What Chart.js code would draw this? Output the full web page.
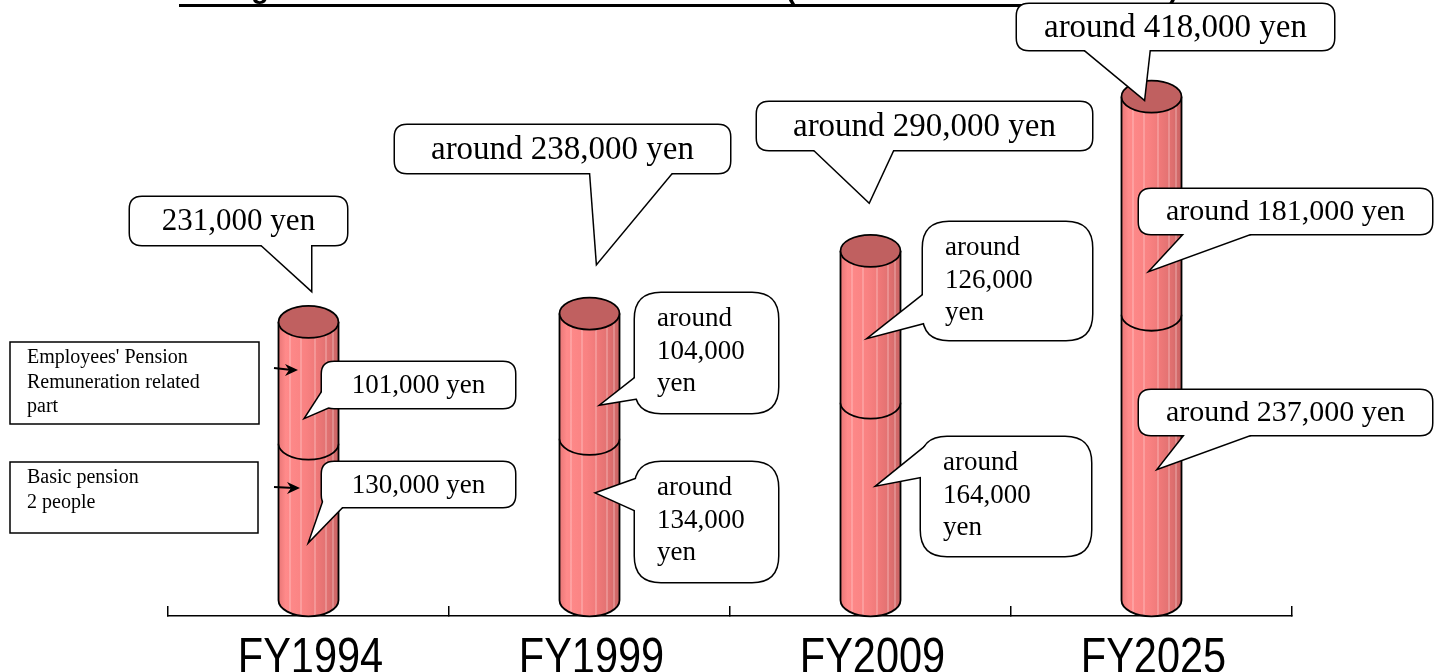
<!DOCTYPE html>
<html>
<head>
<meta charset="utf-8">
<script src="https://cdn.jsdelivr.net/npm/chart.js@4.4.0/dist/chart.umd.min.js"></script>
<style>
    html, body { margin: 0; padding: 0; background: #fff; overflow: hidden; }
    #wrap { width: 1434px; height: 672px; position: relative; }
</style>
</head>
<body>
<div id="wrap"><canvas id="chart"></canvas></div>
<script>
// Datos (yenes al mes)
const years = ['FY1994', 'FY1999', 'FY2009', 'FY2025'];
const basicPension = [130000, 134000, 164000, 237000];
const employeesPension = [101000, 104000, 126000, 181000];
const totals = [231000, 238000, 290000, 418000];
const isEstimate = [false, true, true, true];
const legendBasic = ['Basic pension', '2 people'];
const legendEmployees = ["Employees' Pension", 'Remuneration related', 'part'];
const titleText = 'Changes in New Standard Pension Benefits (Model Household Amounts)';

const serif = '"Liberation Serif", "Times New Roman", serif';
const sans = '"Liberation Sans", Arial, sans-serif';

function yen(v) {
    return v.toLocaleString('en-US') + ' yen';
}

// Cajas de los globos (posición fija, como en la lámina original)
const totalBoxes = [
    { box: [130, 197, 217, 48, 12], base: [[257, 241], [311, 241]], tip: [311, 290], size: 31 },
    { box: [395, 125, 335, 48, 12], base: [[590, 169], [675, 169]], tip: [597, 263], size: 33 },
    { box: [757, 102, 335, 48, 12], base: [[810, 146], [895, 146]], tip: [869, 202], size: 33 },
    { box: [1017, 4, 317, 46, 12], base: [[1080, 46], [1150, 46]], tip: [1144, 99], size: 33 }
];
const employeesBoxes = [
    { box: [322, 362, 193, 46, 12], base: [[326, 386], [336, 404]], tip: [306, 417], size: 27 },
    { box: [635, 293, 143, 120, 26], base: [[639, 375], [639, 398]], tip: [602, 404], size: 27, multi: true },
    { box: [923, 222, 169, 118, 26], base: [[927, 292], [927, 322]], tip: [870, 337], size: 27, multi: true },
    { box: [1139, 189, 293, 45, 12], base: [[1188, 230], [1261, 230]], tip: [1151, 270], size: 30 }
];
const basicBoxes = [
    { box: [322, 462, 193, 45, 12], base: [[326, 494], [346, 503]], tip: [310, 540], size: 27 },
    { box: [635, 462, 143, 120, 26], base: [[639, 478], [639, 512]], tip: [597, 493], size: 27, multi: true },
    { box: [921, 437, 170, 119, 26], base: [[925, 447], [925, 476]], tip: [878, 485], size: 27, multi: true },
    { box: [1139, 390, 293, 45, 12], base: [[1188, 431], [1261, 431]], tip: [1159, 468], size: 30 }
];

function roundRectPath(ctx, x, y, w, h, r) {
    ctx.beginPath();
    ctx.moveTo(x + r, y);
    ctx.lineTo(x + w - r, y);
    ctx.quadraticCurveTo(x + w, y, x + w, y + r);
    ctx.lineTo(x + w, y + h - r);
    ctx.quadraticCurveTo(x + w, y + h, x + w - r, y + h);
    ctx.lineTo(x + r, y + h);
    ctx.quadraticCurveTo(x, y + h, x, y + h - r);
    ctx.lineTo(x, y + r);
    ctx.quadraticCurveTo(x, y, x + r, y);
    ctx.closePath();
}

function drawBubble(ctx, cfg, lines) {
    const [x, y, w, h, r] = cfg.box;
    const tri = () => {
        ctx.beginPath();
        ctx.moveTo(cfg.base[0][0], cfg.base[0][1]);
        ctx.lineTo(cfg.tip[0], cfg.tip[1]);
        ctx.lineTo(cfg.base[1][0], cfg.base[1][1]);
        ctx.closePath();
    };
    ctx.save();
    ctx.lineWidth = 3;
    ctx.miterLimit = 6;
    ctx.strokeStyle = '#000';
    ctx.fillStyle = '#fff';
    roundRectPath(ctx, x, y, w, h, r);
    ctx.stroke();
    tri();
    ctx.stroke();
    roundRectPath(ctx, x, y, w, h, r);
    ctx.fill();
    tri();
    ctx.fill();

    ctx.fillStyle = '#000';
    ctx.font = cfg.size + 'px ' + serif;
    ctx.textBaseline = 'middle';
    if (cfg.multi) {
        ctx.textAlign = 'left';
        lines.forEach((t, k) => ctx.fillText(t, x + 22, y + 26 + k * 32.5));
    } else {
        ctx.textAlign = 'center';
        ctx.fillText(lines[0], x + w / 2, y + h / 2 + 1);
    }
    ctx.restore();
}

function segmentLines(v, i, cfg) {
    if (cfg.multi) return ['around', v.toLocaleString('en-US'), 'yen'];
    return [(isEstimate[i] ? 'around ' : '') + yen(v)];
}

function drawLegendBox(ctx, x, y, w, h, lines, arrow) {
    ctx.save();
    ctx.lineWidth = 1.5;
    ctx.strokeStyle = '#000';
    ctx.fillStyle = '#fff';
    ctx.fillRect(x, y, w, h);
    ctx.strokeRect(x, y, w, h);
    ctx.fillStyle = '#000';
    ctx.font = '20px ' + serif;
    ctx.textBaseline = 'middle';
    ctx.textAlign = 'left';
    lines.forEach((t, k) => ctx.fillText(t, x + 17, y + 16 + k * 24.5));
    // flecha hacia el cilindro
    const [ax1, ay1, ax2, ay2] = arrow;
    ctx.lineWidth = 2;
    ctx.beginPath();
    ctx.moveTo(ax1, ay1);
    ctx.lineTo(ax2 - 6, ay2);
    ctx.stroke();
    ctx.beginPath();
    ctx.moveTo(ax2, ay2);
    ctx.lineTo(ax2 - 13, ay2 - 6);
    ctx.lineTo(ax2 - 9, ay2);
    ctx.lineTo(ax2 - 13, ay2 + 6);
    ctx.closePath();
    ctx.fill();
    ctx.restore();
}

// Cuerpo de cilindro a partir de la geometría de la barra
function drawCylinder(ctx, x, yTop, yBase, rx, ry, withCap) {
    const grad = ctx.createLinearGradient(x - rx, 0, x + rx, 0);
    grad.addColorStop(0, '#E97676');
    grad.addColorStop(0.12, '#FF8A8A');
    grad.addColorStop(0.45, '#F98282');
    grad.addColorStop(0.65, '#EE7878');
    grad.addColorStop(0.85, '#DE6F6F');
    grad.addColorStop(1, '#C96464');

    ctx.save();
    ctx.beginPath();
    ctx.moveTo(x - rx, yTop);
    ctx.lineTo(x - rx, yBase);
    ctx.ellipse(x, yBase, rx, ry, 0, Math.PI, 0, true);
    ctx.lineTo(x + rx, yTop);
    ctx.ellipse(x, yTop, rx, ry, 0, 0, Math.PI, true);
    ctx.closePath();
    ctx.fillStyle = grad;
    ctx.fill();

    // rayas claras verticales
    ctx.save();
    ctx.clip();
    ctx.strokeStyle = 'rgba(255, 225, 225, 0.55)';
    ctx.lineWidth = 1;
    [-19, -8, 6, 17, 24].forEach(dx => {
        ctx.beginPath();
        ctx.moveTo(x + dx + 0.5, yTop - ry);
        ctx.lineTo(x + dx + 0.5, yBase + ry);
        ctx.stroke();
    });
    ctx.restore();

    ctx.strokeStyle = '#000';
    ctx.lineWidth = 1.8;
    ctx.beginPath();
    ctx.moveTo(x - rx, yTop);
    ctx.lineTo(x - rx, yBase);
    ctx.ellipse(x, yBase, rx, ry, 0, Math.PI, 0, true);
    ctx.lineTo(x + rx, yTop);
    ctx.stroke();

    if (withCap) {
        ctx.beginPath();
        ctx.ellipse(x, yTop, rx, ry, 0, 0, Math.PI * 2);
        ctx.fillStyle = '#C06060';
        ctx.fill();
        ctx.stroke();
    }
    ctx.restore();
}

const cylinderPlugin = {
    id: 'cylinders',
    afterDatasetsDraw(chart) {
        const ctx = chart.ctx;
        const lower = chart.getDatasetMeta(0).data;
        const upper = chart.getDatasetMeta(1).data;
        lower.forEach((el, i) => {
            const rx = el.width / 2;
            const ry = 16;
            drawCylinder(ctx, el.x, el.y, el.base, rx, ry, false);
            const top = upper[i];
            drawCylinder(ctx, top.x, top.y, top.base, rx, ry, true);
        });
    }
};

// Etiquetas del eje X en letra estrecha (escala horizontal)
const narrowLabels = {
    id: 'narrowLabels',
    afterDraw(chart) {
        const ctx = chart.ctx;
        const xs = chart.scales.x;
        ctx.save();
        ctx.font = '50px ' + sans;
        ctx.fillStyle = '#000';
        ctx.textAlign = 'center';
        ctx.textBaseline = 'alphabetic';
        chart.data.labels.forEach((lab, i) => {
            const px = xs.getPixelForTick(i);
            ctx.save();
            ctx.translate(px + 2, xs.top + 57);
            ctx.scale(0.83, 1);
            ctx.fillText(lab, 0, 0);
            ctx.restore();
        });
        ctx.restore();
    }
};

const notesPlugin = {
    id: 'notes',
    afterDraw(chart) {
        const ctx = chart.ctx;

        // título (cortado arriba, como en la lámina)
        ctx.save();
        ctx.font = 'bold 30px ' + sans;
        const w1 = ctx.measureText(titleText).width;
        const size = 30 * 1000 / w1;
        ctx.font = 'bold ' + size + 'px ' + sans;
        ctx.fillStyle = '#000';
        ctx.textBaseline = 'alphabetic';
        ctx.textAlign = 'left';
        ctx.fillText(titleText, 179, -2);
        ctx.fillRect(179, 4, ctx.measureText(titleText).width, 3);
        ctx.restore();

        drawLegendBox(ctx, 10, 342, 249, 82, legendEmployees, [274, 368, 298, 370]);
        drawLegendBox(ctx, 10, 462, 248, 71, legendBasic, [274, 487, 300, 488]);

        years.forEach((y, i) => {
            drawBubble(ctx, employeesBoxes[i], segmentLines(employeesPension[i], i, employeesBoxes[i]));
            drawBubble(ctx, basicBoxes[i], segmentLines(basicPension[i], i, basicBoxes[i]));
            drawBubble(ctx, totalBoxes[i], [(isEstimate[i] ? 'around ' : '') + yen(totals[i])]);
        });
    }
};

new Chart(document.getElementById('chart').getContext('2d'), {
    type: 'bar',
    data: {
        labels: years,
        datasets: [{
            label: 'Basic pension',
            data: basicPension,
            backgroundColor: 'rgba(0,0,0,0)',
            borderWidth: 0,
            barThickness: 60
        }, {
            label: "Employees' Pension",
            data: employeesPension,
            backgroundColor: 'rgba(0,0,0,0)',
            borderWidth: 0,
            barThickness: 60
        }]
    },
    options: {
        responsive: true,
        maintainAspectRatio: false,
        animation: false,
        layout: { padding: { left: 168, right: 142, top: 40, bottom: 0 } },
        scales: {
            x: {
                stacked: true,
                grid: {
                    offset: true,
                    drawOnChartArea: false,
                    drawTicks: true,
                    tickLength: -10,
                    color: '#000',
                    lineWidth: 1.5
                },
                border: { display: true, color: '#000', width: 1.5 },
                ticks: { display: false },
                afterFit(scale) { scale.height = 56; }
            },
            y: {
                stacked: true,
                display: false,
                min: -13000,
                max: 465000
            }
        },
        plugins: {
            legend: { display: false },
            tooltip: { enabled: false }
        }
    },
    plugins: [cylinderPlugin, narrowLabels, notesPlugin]
});
</script>
</body>
</html>
